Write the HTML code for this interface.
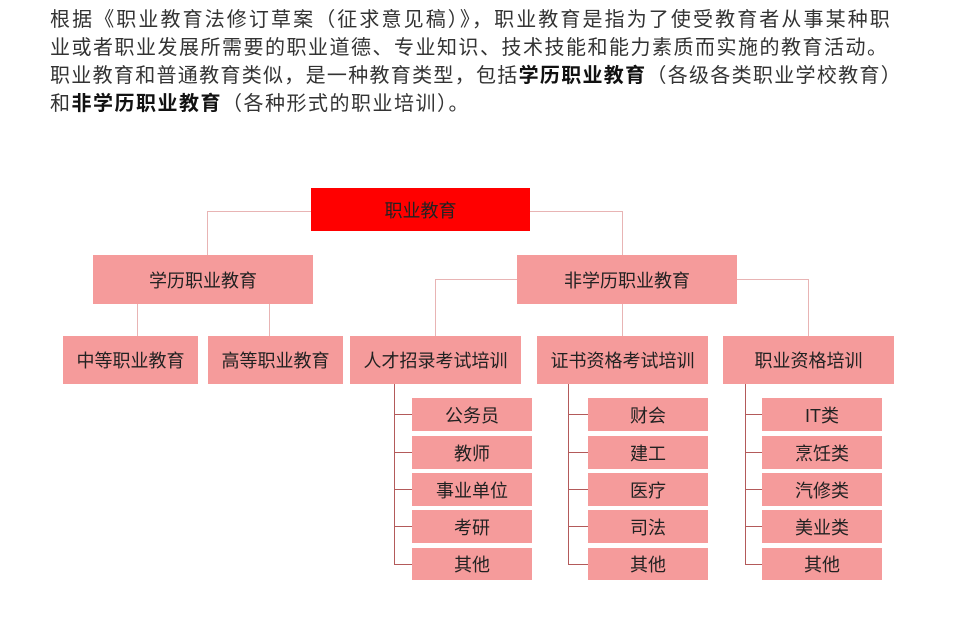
<!DOCTYPE html>
<html><head><meta charset="utf-8"><style>
body{margin:0;width:960px;height:636px;background:#fff;position:relative;overflow:hidden;font-family:"Liberation Sans","Noto Sans CJK SC",sans-serif;}
.p{position:absolute;left:50px;top:6px;white-space:nowrap;font-size:20px;letter-spacing:1.5px;line-height:28px;color:#333;}
.p b{font-weight:bold;color:#111}
.b{position:absolute;background:#f59b9b;color:#222;font-size:18px;display:flex;align-items:center;justify-content:center;}
.l{position:absolute;background:#e8b4b4;}
.d{position:absolute;background:#b35a5a;}
</style></head><body>
<div class="p"><span style="letter-spacing:2.1px">根据《职业教育法修订草案（征求意见稿）》，职业教育是指为了使受教育者从事某种职</span><br>业或者职业发展所需要的职业道德、专业知识、技术技能和能力素质而实施的教育活动。<br><span style="letter-spacing:1.3px">职业教育和普通教育类似，是一种教育类型，包括<b>学历职业教育</b>（各级各类职业学校教育）</span><br>和<b>非学历职业教育</b>（各种形式的职业培训）。</div>

<div class="l" style="left:207px;top:211px;width:104px;height:1px"></div>
<div class="l" style="left:207px;top:211px;width:1px;height:45px"></div>
<div class="l" style="left:530px;top:211px;width:92px;height:1px"></div>
<div class="l" style="left:622px;top:211px;width:1px;height:45px"></div>
<div class="l" style="left:137px;top:304px;width:1px;height:32px"></div>
<div class="l" style="left:269px;top:304px;width:1px;height:32px"></div>
<div class="l" style="left:435px;top:279px;width:82px;height:1px"></div>
<div class="l" style="left:435px;top:279px;width:1px;height:57px"></div>
<div class="l" style="left:737px;top:279px;width:71px;height:1px"></div>
<div class="l" style="left:808px;top:279px;width:1px;height:57px"></div>
<div class="l" style="left:622px;top:304px;width:1px;height:32px"></div>

<div class="b" style="left:311px;top:188px;width:219px;height:43px;background:#ff0000">职业教育</div>
<div class="b" style="left:93px;top:255px;width:220px;height:49px">学历职业教育</div>
<div class="b" style="left:517px;top:255px;width:220px;height:49px">非学历职业教育</div>
<div class="b" style="left:63px;top:336px;width:135px;height:48px">中等职业教育</div>
<div class="b" style="left:208px;top:336px;width:135px;height:48px">高等职业教育</div>
<div class="b" style="left:350px;top:336px;width:171px;height:48px">人才招录考试培训</div>
<div class="b" style="left:537px;top:336px;width:171px;height:48px">证书资格考试培训</div>
<div class="b" style="left:723px;top:336px;width:171px;height:48px">职业资格培训</div>

<div class="d" style="left:394px;top:384px;width:1px;height:181px"></div>
<div class="d" style="left:568px;top:384px;width:1px;height:181px"></div>
<div class="d" style="left:745px;top:384px;width:1px;height:181px"></div>

<div class="d" style="left:394px;top:414px;width:18px;height:1px"></div>
<div class="d" style="left:394px;top:452px;width:18px;height:1px"></div>
<div class="d" style="left:394px;top:489px;width:18px;height:1px"></div>
<div class="d" style="left:394px;top:526px;width:18px;height:1px"></div>
<div class="d" style="left:394px;top:564px;width:18px;height:1px"></div>
<div class="d" style="left:568px;top:414px;width:20px;height:1px"></div>
<div class="d" style="left:568px;top:452px;width:20px;height:1px"></div>
<div class="d" style="left:568px;top:489px;width:20px;height:1px"></div>
<div class="d" style="left:568px;top:526px;width:20px;height:1px"></div>
<div class="d" style="left:568px;top:564px;width:20px;height:1px"></div>
<div class="d" style="left:745px;top:414px;width:17px;height:1px"></div>
<div class="d" style="left:745px;top:452px;width:17px;height:1px"></div>
<div class="d" style="left:745px;top:489px;width:17px;height:1px"></div>
<div class="d" style="left:745px;top:526px;width:17px;height:1px"></div>
<div class="d" style="left:745px;top:564px;width:17px;height:1px"></div>

<div class="b" style="left:412px;top:398px;width:120px;height:33px">公务员</div>
<div class="b" style="left:412px;top:436px;width:120px;height:33px">教师</div>
<div class="b" style="left:412px;top:473px;width:120px;height:33px">事业单位</div>
<div class="b" style="left:412px;top:510px;width:120px;height:33px">考研</div>
<div class="b" style="left:412px;top:548px;width:120px;height:32px">其他</div>

<div class="b" style="left:588px;top:398px;width:120px;height:33px">财会</div>
<div class="b" style="left:588px;top:436px;width:120px;height:33px">建工</div>
<div class="b" style="left:588px;top:473px;width:120px;height:33px">医疗</div>
<div class="b" style="left:588px;top:510px;width:120px;height:33px">司法</div>
<div class="b" style="left:588px;top:548px;width:120px;height:32px">其他</div>

<div class="b" style="left:762px;top:398px;width:120px;height:33px">IT类</div>
<div class="b" style="left:762px;top:436px;width:120px;height:33px">烹饪类</div>
<div class="b" style="left:762px;top:473px;width:120px;height:33px">汽修类</div>
<div class="b" style="left:762px;top:510px;width:120px;height:33px">美业类</div>
<div class="b" style="left:762px;top:548px;width:120px;height:32px">其他</div>
</body></html>
